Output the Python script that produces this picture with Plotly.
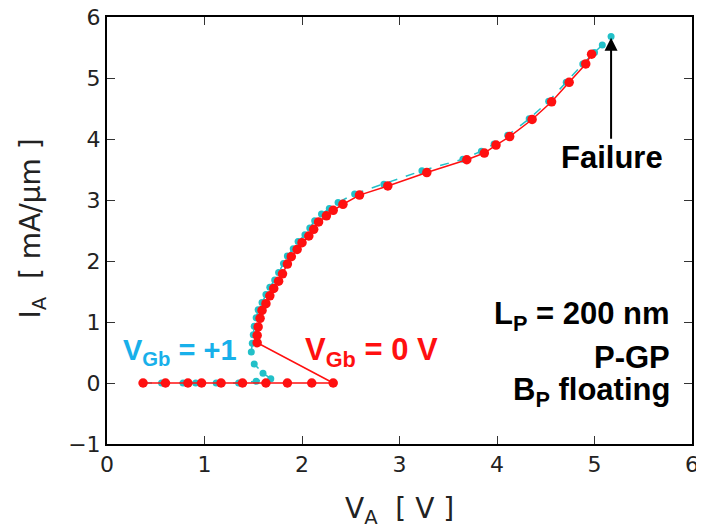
import plotly.graph_objects as go

# V_Gb = 0 V (red)
va_red = [0.37, 0.60, 0.83, 0.97, 1.17, 1.39, 1.63, 1.85, 2.10, 2.32,
          1.54, 1.54, 1.55, 1.57, 1.59, 1.63, 1.67, 1.71, 1.76, 1.80,
          1.85, 1.89, 1.95, 2.00, 2.07, 2.12, 2.17, 2.25, 2.32, 2.42,
          2.59, 2.88, 3.28, 3.69, 3.87, 3.99, 4.13, 4.36, 4.56, 4.74,
          4.91, 4.97]
ia_red = [0.0, 0.0, 0.0, 0.0, 0.0, 0.0, 0.0, 0.0, 0.0, 0.0,
          0.66, 0.78, 0.92, 1.06, 1.19, 1.30, 1.43, 1.55, 1.67, 1.79,
          1.95, 2.07, 2.19, 2.30, 2.41, 2.52, 2.64, 2.74, 2.83, 2.93,
          3.08, 3.23, 3.45, 3.66, 3.77, 3.90, 4.04, 4.32, 4.61, 4.93,
          5.23, 5.39]

# V_Gb = +1 V (cyan)
va_cyan = [0.37, 0.56, 0.78, 0.91, 1.12, 1.35, 1.53, 1.68, 1.60, 1.51,
           1.48, 1.49, 1.50, 1.51, 1.53, 1.55, 1.59, 1.63, 1.67, 1.72,
           1.76, 1.81, 1.85, 1.91, 1.96, 2.03, 2.08, 2.13, 2.20, 2.28,
           2.37, 2.54, 2.84, 3.23, 3.65, 3.84, 3.97, 4.11, 4.33, 4.53,
           4.71, 4.88, 5.00, 5.08, 5.17]
ia_cyan = [0.0, 0.0, 0.0, 0.0, 0.0, 0.0, 0.03, 0.07, 0.16, 0.31,
           0.51, 0.65, 0.79, 0.93, 1.07, 1.20, 1.32, 1.45, 1.57, 1.69,
           1.81, 1.96, 2.08, 2.20, 2.32, 2.43, 2.54, 2.66, 2.77, 2.86,
           2.96, 3.10, 3.26, 3.48, 3.67, 3.80, 3.92, 4.06, 4.33, 4.62,
           4.93, 5.23, 5.42, 5.54, 5.68]

x_ticks = [0, 1, 2, 3, 4, 5, 6]
y_ticks = [-1, 0, 1, 2, 3, 4, 5, 6]

RED = "#ff1010"
CYAN = "#22c0c8"
CYAN_TXT = "#18b0ea"

fig = go.Figure()
fig.add_trace(go.Scatter(x=va_cyan, y=ia_cyan, mode="lines+markers",
                         line=dict(color=CYAN, width=1.5, dash="dash"),
                         marker=dict(color=CYAN, size=7, line=dict(width=0)),
                         showlegend=False))
fig.add_trace(go.Scatter(x=va_red, y=ia_red, mode="lines+markers",
                         line=dict(color=RED, width=1.5),
                         marker=dict(color=RED, size=9.5, line=dict(width=0)),
                         showlegend=False))

bold = "Liberation Sans, Arial, sans-serif"
title_font = dict(family="DejaVu Sans", size=28, color="#222222")
ann = []
ann.append(dict(x=0.75, y=0.51, xref="x", yref="y", showarrow=False,
                text="<b>V<sub>Gb</sub> = +1</b>",
                font=dict(family=bold, size=29, color=CYAN_TXT)))
ann.append(dict(x=2.71, y=0.51, xref="x", yref="y", showarrow=False,
                text="<b>V<sub>Gb</sub> = 0 V</b>",
                font=dict(family=bold, size=31, color=RED)))
ann.append(dict(x=5.18, y=3.70, xref="x", yref="y", showarrow=False,
                text="<b>Failure</b>",
                font=dict(family=bold, size=31, color="black")))
ann.append(dict(x=5.17, y=5.66, ax=5.17, ay=3.98, xref="x", yref="y",
                axref="x", ayref="y", showarrow=True, arrowhead=2,
                arrowsize=1.3, arrowwidth=2, arrowcolor="black", text=""))
for txt, yv in [("<b>L<sub>P</sub> = 200 nm</b>", 1.10),
                ("<b>P-GP</b>", 0.41),
                ("<b>B<sub>P</sub> floating</b>", -0.15)]:
    ann.append(dict(x=5.79, y=yv, xref="x", yref="y", showarrow=False,
                    xanchor="right", text=txt,
                    font=dict(family=bold, size=31, color="black")))
# axis titles
ann.append(dict(x=0.5, y=-0.155, xref="paper", yref="paper", showarrow=False,
                xanchor="center", yanchor="middle",
                text="V<sub>A</sub>  [ V ]", font=title_font))
ann.append(dict(x=-0.128, y=0.505, xref="paper", yref="paper", showarrow=False,
                xanchor="center", yanchor="middle", textangle=-90,
                text="I<sub>A</sub>  [ mA/\u03bcm ]", font=title_font))

tick_font = dict(family="DejaVu Sans", size=22, color="#222222")
axis_common = dict(showline=True, linecolor="black", linewidth=2,
                   mirror="allticks", ticks="inside", ticklen=8,
                   tickwidth=1.2, tickcolor="#333333", showgrid=False,
                   zeroline=False, tickfont=tick_font, automargin=False,
                   ticklabeloverflow="allow")

fig.update_layout(
    width=696, height=521,
    margin=dict(l=99, r=12, t=9, b=85),
    paper_bgcolor="white", plot_bgcolor="white",
    annotations=ann,
    xaxis=dict(range=[0, 6], tickvals=x_ticks, ticktext=[str(v) for v in x_ticks],
               **axis_common),
    yaxis=dict(range=[-1, 6], tickvals=y_ticks,
               ticktext=[("\u22121" if v == -1 else str(v)) for v in y_ticks],
               **axis_common),
)

fig.write_html("out.html")
